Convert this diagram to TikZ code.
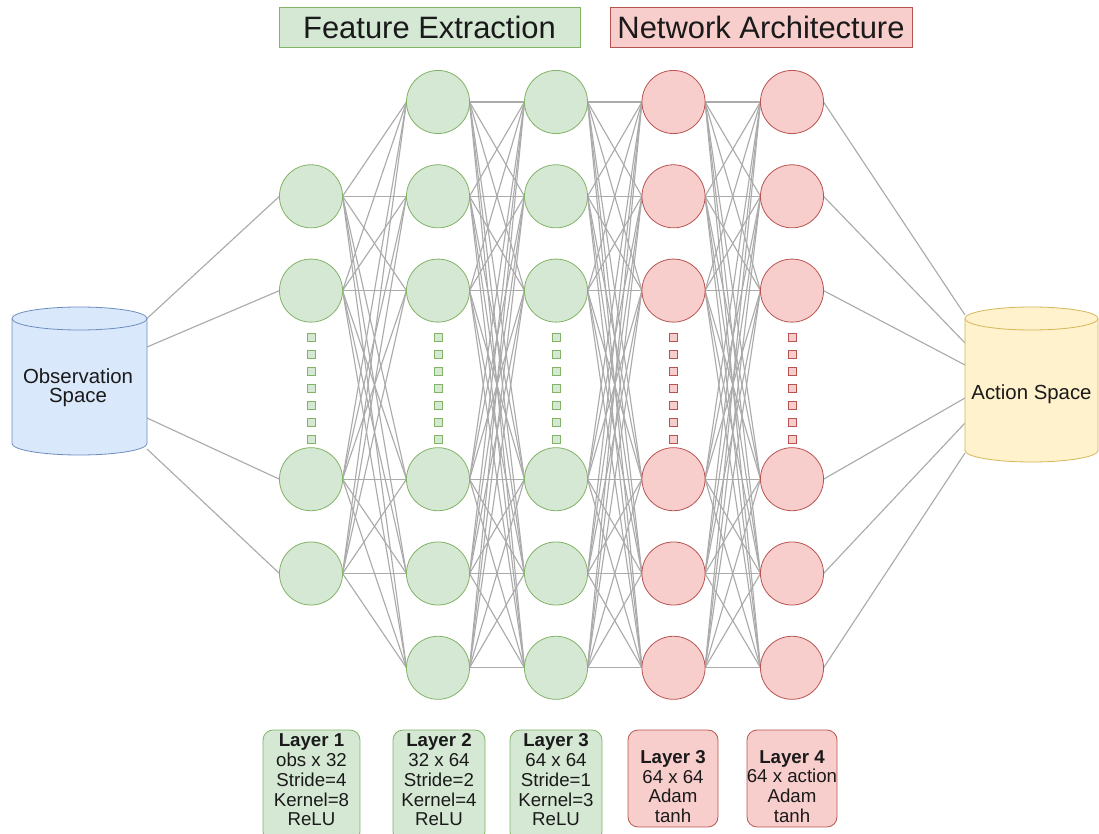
\documentclass[tikz,border=0pt]{standalone}
\usepackage{fontspec}
\setmainfont{Liberation Sans}
\usetikzlibrary{backgrounds}
\definecolor{gfill}{HTML}{D5E8D4}
\definecolor{gline}{HTML}{82B366}
\definecolor{rfill}{HTML}{F8CECC}
\definecolor{rline}{HTML}{B85450}
\definecolor{bfill}{HTML}{DAE8FC}
\definecolor{bline}{HTML}{6C8EBF}
\definecolor{yfill}{HTML}{FFF2CC}
\definecolor{yline}{HTML}{D6B656}
\definecolor{linkgray}{HTML}{ABABAB}
\definecolor{ink}{HTML}{1A1A1A}
\begin{document}
\begin{tikzpicture}[x=0.75pt,y=-0.75pt,
  neuron/.style={circle,minimum size=47.3pt,inner sep=0pt,outer sep=0pt,line width=0.6pt},
  gneuron/.style={neuron,fill=gfill,draw=gline},
  rneuron/.style={neuron,fill=rfill,draw=rline},
  link/.style={draw=linkgray,line width=0.85pt},
  gdot/.style={fill=gfill,draw=gline,line width=0.6pt},
  rdot/.style={fill=rfill,draw=rline,line width=0.6pt},
  headbox/.style={rectangle,inner sep=0pt,line width=0.6pt,minimum height=30pt,
    font=\fontsize{23.2}{26}\selectfont,text=ink},
  infobox/.style={rectangle,rounded corners=7.5pt,inner sep=0pt,line width=0.6pt},
  infotext/.style={align=center,inner sep=0pt,text=ink,font=\fontsize{14}{14.8}\selectfont},
  cyltext/.style={align=center,inner sep=0pt,text=ink,font=\fontsize{15.3}{14}\selectfont}
]
\useasboundingbox (0,0) rectangle (1099,834);
\begin{scope}[on background layer]
  \fill[white] (0,0) rectangle (1099,834);
\end{scope}

% headings
\node[headbox,fill=gfill,draw=gline,minimum width=225.7pt] (fe) at (429.5,27) {Feature Extraction};
\node[headbox,fill=rfill,draw=rline,minimum width=226.5pt] (na) at (761,27) {Network Architecture};

% observation cylinder
\filldraw[fill=bfill,draw=bline,line width=0.6pt]
  (12,318.5) -- (12,443.5) arc[start angle=180,end angle=0,x radius=67.5,y radius=11.5]
  -- (147,318.5) arc[start angle=0,end angle=-180,x radius=67.5,y radius=11.5] -- cycle;
\draw[bline,line width=0.6pt] (12,318.5) arc[start angle=180,end angle=0,x radius=67.5,y radius=11.5];
\node[cyltext] (obs) at (78,388) {Observation\\Space};

% action cylinder
\filldraw[fill=yfill,draw=yline,line width=0.6pt]
  (965,318.5) -- (965,450.5) arc[start angle=180,end angle=0,x radius=66.5,y radius=11.5]
  -- (1098,318.5) arc[start angle=0,end angle=-180,x radius=66.5,y radius=11.5] -- cycle;
\draw[yline,line width=0.6pt] (965,318.5) arc[start angle=180,end angle=0,x radius=66.5,y radius=11.5];
\node[cyltext] (act) at (1031.5,394) {Action Space};

% connection points on the cylinders
\coordinate (obs1) at (147,318.5);
\coordinate (obs2) at (147,347);
\coordinate (obs4) at (147,418);
\coordinate (obs5) at (147,449);
\coordinate (act0) at (965,315);
\coordinate (act1) at (965,343);
\coordinate (act2) at (965,365);
\coordinate (act4) at (965,398);
\coordinate (act5) at (965,423);
\coordinate (act6) at (965,453);

% neurons
\foreach \r/\y in {1/196.3,2/290.6,4/479.2,5/573.5}
  \node[gneuron] (a\r) at (311,\y) {};
\foreach \r/\y in {0/102,1/196.3,2/290.6,4/479.2,5/573.5,6/667.8} {
  \node[gneuron] (b\r) at (438,\y) {};
  \node[gneuron] (c\r) at (556,\y) {};
  \node[rneuron] (d\r) at (673.5,\y) {};
  \node[rneuron] (e\r) at (792,\y) {};
}

% weights, drawn behind the neurons
\begin{scope}[on background layer]
  \foreach \i in {1,2,4,5} {
    \draw[link] (obs\i) -- (a\i.west);
    \foreach \j in {0,1,2,4,5,6}
      \draw[link] (a\i.east) -- (b\j.west);
  }
  \foreach \i in {0,1,2,4,5,6} {
    \foreach \j in {0,1,2,4,5,6} {
      \draw[link] (b\i.east) -- (c\j.west);
      \draw[link] (c\i.east) -- (d\j.west);
      \draw[link] (d\i.east) -- (e\j.west);
    }
    \draw[link] (e\i.east) -- (act\i);
  }
\end{scope}

% ellipsis squares
\foreach \k in {0,...,6} {
  \foreach \x in {311,438,556}
    \draw[gdot] (\x-4,337+17*\k-4) rectangle ++(8,8);
  \foreach \x in {673.5,792}
    \draw[rdot] (\x-4,337+17*\k-4) rectangle ++(8,8);
}

% layer descriptions
\node[infobox,fill=gfill,draw=gline,minimum width=72.7pt,minimum height=84pt] (box1) at (311.5,786) {};
\node[infobox,fill=gfill,draw=gline,minimum width=69pt,minimum height=84pt] (box2) at (439,786) {};
\node[infobox,fill=gfill,draw=gline,minimum width=69pt,minimum height=84pt] (box3) at (556,786) {};
\node[infobox,fill=rfill,draw=rline,minimum width=67.5pt,minimum height=72.7pt] (box4) at (673,778.5) {};
\node[infobox,fill=rfill,draw=rline,minimum width=67.5pt,minimum height=72.7pt] (box5) at (792,778.5) {};

\node[infotext] (t1) at (311.5,780) {\textbf{Layer 1}\\obs x 32\\Stride=4\\Kernel=8\\ReLU};
\node[infotext] (t2) at (439,780) {\textbf{Layer 2}\\32 x 64\\Stride=2\\Kernel=4\\ReLU};
\node[infotext] (t3) at (556,780) {\textbf{Layer 3}\\64 x 64\\Stride=1\\Kernel=3\\ReLU};
\node[infotext] (t4) at (673,786.5) {\textbf{Layer 3}\\64 x 64\\Adam\\tanh};
\node[infotext] (t5) at (792,786.5) {\textbf{Layer 4}\\64 x action\\Adam\\tanh};
\end{tikzpicture}
\end{document}
